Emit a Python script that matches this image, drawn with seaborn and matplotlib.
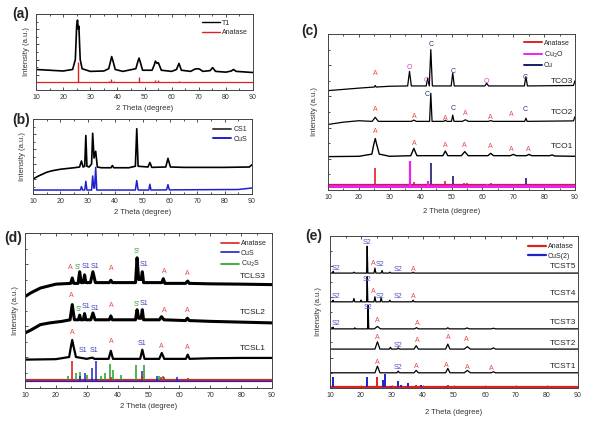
import matplotlib
matplotlib.use("Agg")
import matplotlib.pyplot as plt
import seaborn as sns
from matplotlib.lines import Line2D
import matplotlib.ticker as ticker

# ---------------- data (y in % of panel height) -------------
# (a) T1 pattern and anatase reference
t1_x = [10, 15, 20, 23.5, 24.5, 25.0, 25.3, 25.6, 25.8, 26.3, 27, 30, 35, 36.8, 37.5, 37.9, 38.4, 39.2,
        42, 46.8, 47.6, 48.0, 48.5, 49.3, 52.8, 53.6, 54.0, 54.6, 55.1, 56.2, 60, 61.8, 62.7, 63.6,
        67, 68.6, 69.5, 70.3, 71.5, 74.2, 75.1, 76.2, 80, 82.0, 82.8, 83.8, 90]
t1_y = [27, 26, 25, 27, 40, 85, 92, 80, 84, 40, 28, 24.5, 25, 28, 38, 44, 38, 27,
        24.5, 28, 38, 42, 36, 26, 26, 33, 38, 35, 36, 26, 24.5, 27, 35, 26,
        24.5, 27.5, 28, 27.5, 24.5, 25.5, 29.5, 24.5, 23.5, 25, 27, 24.5, 23]
anatase_a_pos = [25.3, 37.0, 37.8, 38.6, 48.0, 53.9, 55.1, 62.7, 68.8, 70.3, 75.0]
anatase_a_top = [37, 11.5, 14, 11.5, 16.5, 13.5, 13.5, 12, 11, 11, 11]

# (b) CS1 pattern and CuS reference pattern
cs1_x = [10, 12, 15, 17, 20, 25, 27.0, 27.7, 28.3, 28.9, 29.3, 29.7, 30.5, 31.4, 31.8, 32.3, 32.9, 33.5,
         35, 38.5, 39.0, 39.5, 45, 47.4, 47.9, 48.4, 52.0, 52.7, 53.4, 58.5, 59.3, 60.2, 65, 70, 80, 89, 90]
cs1_y = [20, 24, 29, 31, 33, 35, 36, 44, 36, 37, 78, 37, 36, 40, 81, 48, 57, 36,
         35, 35, 38, 35, 35, 37, 87, 37, 36, 42, 35.5, 36, 47.5, 36, 35.5, 35.5, 35.5, 36, 39]
cus_b_x = [10, 27.3, 27.7, 28.1, 28.9, 29.3, 29.7, 31.4, 31.8, 32.2, 32.5, 32.9, 33.3, 47.4, 47.9, 48.4,
           52.3, 52.7, 53.1, 58.8, 59.3, 59.8, 85, 90]
cus_b_y = [5.3, 5.3, 10, 5.3, 5.3, 17, 5.3, 5.3, 24, 8, 8, 35.5, 5.3, 5.3, 18, 5.3,
           5.3, 13, 5.3, 5.5, 12.5, 5.5, 6, 8]

# (c) TCO series and Anatase / Cu2O / Cu references
tco3_x = [10, 15, 20, 25, 25.3, 25.6, 30, 35.8, 36.4, 37.0, 41.8, 42.3, 42.8, 43.3, 43.8, 49.9, 50.4, 50.9,
          60.8, 61.4, 62.0, 73.6, 74.1, 74.6, 89.5, 90]
tco3_y = [63.7, 64.5, 65.3, 66, 67, 66, 66.5, 66.7, 76, 66.7, 66.7, 71.6, 66.7, 90, 66.7, 66.7, 75, 66.7,
          66.7, 68.4, 66.7, 66.7, 72.6, 66.7, 67, 70]
tco2_x = [10, 15, 20, 24.3, 25.3, 26.3, 30, 37.0, 37.8, 38.6, 42.9, 43.3, 43.7, 47.5, 48.0, 48.5, 50.0, 50.4,
          50.8, 53.5, 54.5, 55.5, 62.0, 62.7, 63.4, 73.7, 74.1, 74.5, 89.5, 90]
tco2_y = [42, 43.5, 44.4, 44, 46.6, 44, 44, 44, 44.8, 44, 44, 62, 44, 44, 44.7, 44, 44, 48,
          44, 44, 45, 44, 44, 44.5, 44, 44, 46, 44, 44.3, 47]
tco1_x = [10, 20, 24.2, 24.8, 25.3, 25.8, 26.6, 30, 36.8, 37.8, 38.8, 47.2, 48.0, 48.8, 53.2, 54.3, 55.4,
          61.8, 62.7, 63.6, 69, 70, 71, 74.2, 75.1, 76, 81.8, 82.6, 83.4, 90]
tco1_y = [21.4, 21.6, 23, 29, 33, 29, 23, 21.6, 22, 26.7, 22, 22, 25, 22, 22, 24.6, 22,
          22, 23.5, 22, 22, 22.8, 22, 22, 22.8, 22, 22, 22.5, 21.8, 21.6]
anatase_c_pos = [25.3, 37.8, 48.0, 53.9, 55.1, 62.7]
anatase_c_top = [14.3, 5.3, 6, 4.8, 4.8, 4.2]
cu2o_pos = [29.6, 36.4, 42.3, 61.4, 73.5]
cu2o_top = [3, 18.6, 6, 4, 3.2]
cu_pos = [43.3, 50.4, 74.1]
cu_top = [17, 9, 8]

# (d) TCSL series and Anatase / CuS / Cu2S references
tcls3_x = [10, 12, 15, 18, 20, 24.8, 25.3, 25.8, 27.2, 27.7, 28.2, 28.9, 29.3, 29.7, 31.2, 32.0, 32.8,
           37.3, 37.8, 38.3, 45.8, 46.3, 46.8, 47.6, 48.0, 48.4, 54.3, 54.8, 55.3, 62, 62.7, 63.2, 70, 80, 90]
tcls3_y = [59, 61.5, 64.5, 66, 67, 67.5, 71, 67.5, 67.5, 75, 68, 68, 73, 68, 68, 75, 68,
           68, 69.5, 68, 68, 84, 70, 70, 75, 68, 68, 70.5, 67.5, 67.5, 69, 67.5, 67.2, 67, 66.7]
tcsl2_x = [10, 12, 15, 18, 22, 24.6, 25.3, 26.0, 27.3, 27.7, 28.1, 28.9, 29.3, 29.7, 31.3, 32.0, 32.7,
           37.3, 37.8, 38.3, 45.8, 46.3, 46.8, 47.6, 48.0, 48.4, 53.5, 54.2, 55, 62, 62.6, 63.2, 70, 80, 90]
tcsl2_y = [35.5, 37.5, 40.9, 42, 43, 44, 53.8, 44, 44, 47, 44, 44, 48, 44, 44, 48.4, 44,
           44, 46.5, 44, 44, 50.5, 45, 45, 50.5, 44, 44, 46, 44, 43.5, 45, 43.5, 43, 42.5, 42]
tcsl1_x = [10, 20, 24.3, 24.9, 25.3, 25.7, 26.5, 30, 31.8, 32.5, 37.1, 37.8, 38.5, 47.3, 48.0, 48.7,
           53.5, 54.3, 55.1, 62.1, 62.7, 63.3, 70, 80, 90]
tcsl1_y = [18.3, 18.6, 20, 27, 31, 27, 20, 18.8, 19.6, 18.8, 18.8, 24, 18.8, 18.8, 24.7, 18.8,
           18.8, 22.6, 18.8, 18.8, 21.5, 18.8, 19.2, 19.4, 19.4]
anatase_d_pos = [25.3, 37.8, 48.0, 53.9, 55.1, 62.7, 75.0]
anatase_d_top = [17.6, 7, 7.5, 7, 7, 6.5, 6]
cus_d_pos = [27.7, 29.3, 31.8, 32.9, 47.9, 52.7, 59.3]
cus_d_top = [7.5, 9.7, 12.9, 17.6, 10.8, 8, 7]
cu2s_d_pos = [23.8, 26.5, 27.8, 30.0, 34.5, 36.0, 37.5, 38.5, 41.0, 45.9, 48.4, 53.5, 54.6]
cu2s_d_top = [8, 9.7, 10.5, 8.5, 8, 9.7, 15.5, 11.5, 8.5, 15, 15, 8, 8]

# (e) TCST series and Anatase / CuS(2) references
tcst5_x = [10, 10.8, 11.0, 11.2, 17.4, 17.7, 18.0, 21.8, 22.0, 22.2, 24.2, 24.5, 24.8, 26.5, 26.8, 27.1,
           29, 29.3, 29.6, 36.5, 36.8, 37.1, 90]
tcst5_y = [75.6, 75.6, 76.7, 75.6, 75.6, 76.2, 75.6, 75.6, 93.3, 75.6, 75.6, 78.9, 75.6, 75.6, 77.3, 75.6,
           75.6, 76.2, 75.6, 75.6, 76.2, 75.6, 75.6]
tcst4_x = [10, 10.8, 11.0, 11.2, 17.4, 17.7, 18.0, 19.8, 20.0, 20.2, 21.8, 22.0, 22.2, 24.2, 24.5, 24.8,
           26.2, 26.5, 26.8, 29, 29.3, 29.6, 36.5, 36.8, 37.1, 90]
tcst4_y = [56.7, 56.7, 57.8, 56.7, 56.7, 58.9, 56.7, 56.7, 57.8, 56.7, 56.7, 73.3, 56.7, 56.7, 60, 56.7,
           56.7, 59.3, 56.7, 56.7, 57.8, 56.7, 56.7, 57.8, 56.7, 56.7]
tcst3_x = [10, 10.8, 11.0, 11.2, 17.8, 18, 18.2, 22.1, 22.3, 22.5, 24.3, 25.3, 26.3, 37.3, 37.9, 38.5,
           47.5, 48, 48.5, 53.5, 54.2, 55, 62, 62.7, 63.4, 90]
tcst3_y = [38.9, 38.9, 40, 38.9, 38.9, 39.6, 38.9, 38.9, 54.4, 38.9, 38.9, 40.5, 38.9, 38.9, 39.7, 38.9,
           38.9, 39.6, 38.9, 38.9, 39.5, 38.9, 38.9, 39.3, 38.9, 38.9]
tcst2_x = [10, 24.5, 25.3, 26.1, 29.2, 29.5, 29.8, 31.6, 32, 32.4, 37.1, 37.8, 38.5, 47.3, 48, 48.7,
           53.3, 54.3, 55.3, 62, 62.7, 63.4, 90]
tcst2_y = [25.6, 25.6, 30.4, 25.6, 25.6, 26.8, 25.6, 25.6, 26.4, 25.6, 25.6, 27.8, 25.6, 25.6, 28.9, 25.6,
           25.6, 27.2, 25.6, 25.6, 26.4, 25.6, 25.6]
tcst1_x = [10, 24.5, 25.3, 26.1, 31.6, 32, 32.4, 37.1, 37.8, 38.5, 47.3, 48, 48.7, 53.3, 54.3, 55.3,
           62, 62.7, 63.4, 90]
tcst1_y = [10, 10, 14.4, 10, 10, 11.1, 10, 10, 11.6, 10, 10, 12.9, 10, 10, 11.6, 10, 10, 10.7, 10, 10]
anatase_e_pos = [25.3, 37.8, 48.0, 53.9, 55.1]
anatase_e_top = [7.1, 2, 1.8, 1.5, 1.5]
cus2_e_pos = [10.9, 22.0, 27.2, 27.8, 29.6, 32.0, 33.0, 35.3, 39.2, 47.9]
cus2_e_top = [7.3, 7, 5, 9.3, 1.5, 4.8, 1.8, 3.3, 2.3, 1.5]

# peak marks: (text, 2theta, height, phase)
marks_c = [("A", 25.3, 74.8, "A"), ("O", 36.4, 78.4, "O"), ("O", 42.0, 70.5, "O"), ("C", 43.3, 93, "C"),
           ("C", 50.4, 75.9, "C"), ("O", 61.4, 69.4, "O"), ("C", 74.0, 72.2, "C"),
           ("A", 25.3, 51.3, "A"), ("A", 37.8, 47.4, "A"), ("C", 42.0, 61, "C"), ("A", 48.0, 46, "A"),
           ("C", 50.4, 52, "C"), ("A", 54.5, 49, "A"), ("A", 62.7, 46.6, "A"), ("A", 69.5, 48.7, "A"),
           ("C", 74.0, 51.3, "C"),
           ("A", 25.3, 37.4, "A"), ("A", 37.8, 30, "A"), ("A", 48.0, 28.4, "A"), ("A", 54.0, 28.4, "A"),
           ("A", 62.7, 27.8, "A"), ("A", 69.5, 26, "A"), ("A", 75.0, 26, "A")]
marks_d = [("A", 24.8, 77.8, "A"), ("S'", 27.2, 77.8, "S'"), ("S1", 29.6, 78.4, "S1"), ("S1", 32.7, 78.4, "S1"),
           ("A", 38.0, 77, "A"), ("S'", 46.2, 88.2, "S'"), ("S1", 48.5, 80, "S1"), ("A", 55.0, 75.3, "A"),
           ("A", 62.7, 73.8, "A"),
           ("A", 25.0, 59.8, "A"), ("S'", 27.3, 50.5, "S'"), ("S1", 29.6, 52.7, "S1"), ("S1", 32.7, 51.6, "S1"),
           ("A", 38.0, 53.3, "A"), ("S'", 46.2, 53.8, "S'"), ("S1", 48.5, 54.2, "S1"), ("A", 55.0, 50, "A"),
           ("A", 62.7, 50, "A"),
           ("A", 25.3, 36, "A"), ("S1", 28.9, 24.5, "S1"), ("S1", 32.4, 24.5, "S1"), ("A", 37.8, 29.7, "A"),
           ("S1", 48.0, 28.6, "S1"), ("A", 54.3, 26.9, "A"), ("A", 62.7, 26.2, "A")]
marks_e = [("S2", 11.8, 78.9, "S2"), ("S2", 22.0, 95.6, "S2"), ("A", 24.0, 82.2, "A"), ("S2", 26.3, 81, "S2"),
           ("S2", 31.8, 78.2, "S2"), ("A", 37.0, 78.2, "A"),
           ("S2", 11.8, 60, "S2"), ("S2", 22.0, 71.6, "S2"), ("A", 24.0, 63.3, "A"), ("S2", 26.3, 60.4, "S2"),
           ("S2", 31.8, 60.4, "S2"), ("A", 37.0, 60, "A"),
           ("S2", 11.8, 42.7, "S2"), ("S2", 22.3, 52.9, "S2"), ("A", 25.3, 44.4, "A"), ("A", 38.0, 42.7, "A"),
           ("A", 25.3, 32.9, "A"), ("S2", 31.8, 27.8, "S2"), ("A", 38.0, 31, "A"), ("A", 48.0, 32.9, "A"),
           ("A", 54.0, 31.8, "A"),
           ("A", 25.3, 16.7, "A"), ("S2", 32.0, 13.3, "S2"), ("A", 37.8, 14.4, "A"), ("A", 47.6, 15.1, "A"),
           ("A", 54.3, 13.8, "A"), ("A", 62.0, 12.7, "A")]

mark_colors = {"A": "#e8474a", "O": "#cc44cc", "C": "#303080", "S'": "#3a9a3a", "S1": "#4040c0", "S2": "#5050c8"}

# ---------------- figure ----------------
sns.set_theme(style="ticks")
plt.rcParams["font.family"] = ["Liberation Sans", "DejaVu Sans"]
plt.rcParams["axes.linewidth"] = 0.7

W, H = 595, 421
fig = plt.figure(figsize=(W / 100, H / 100), dpi=100)


def make_ax(x0, y0, x1, y1, ylab_x, xlab_y):
    ax = fig.add_axes([x0 / W, 1 - y1 / H, (x1 - x0) / W, (y1 - y0) / H])
    ax.set_xlim(10, 90)
    ax.set_ylim(0, 100)
    ax.xaxis.set_major_locator(ticker.MultipleLocator(10))
    ax.xaxis.set_minor_locator(ticker.MultipleLocator(5))
    ax.yaxis.set_major_locator(ticker.MultipleLocator(20))
    ax.yaxis.set_minor_locator(ticker.MultipleLocator(10))
    ax.tick_params(which="both", direction="in", top=True, right=False, labelleft=False,
                   labelsize=5, pad=3, colors="#333333", width=0.6)
    ax.tick_params(which="major", length=2.5)
    ax.tick_params(which="minor", length=1.5)
    for s in ax.spines.values():
        s.set_color("#444444")
    ax.set_xlabel("2 Theta (degree)", fontsize=5.5, color="#333333")
    ax.set_ylabel("Intensity (a.u.)", fontsize=5.5, color="#333333")
    ax.xaxis.set_label_coords(0.5, (y1 - xlab_y) / (y1 - y0))
    ax.xaxis.label.set_va("center")
    ax.yaxis.set_label_coords((ylab_x - x0) / (x1 - x0), 0.5)
    ax.yaxis.label.set_va("center")
    return ax


def trace(ax, x, y, color="black", lw=0.8):
    sns.lineplot(x=x, y=y, ax=ax, color=color, lw=lw, sort=False, estimator=None, legend=False)


def sticks(ax, pos, top, base, color, lw=1.0):
    ax.vlines(pos, base, top, colors=color, lw=lw)


def legend(ax, entries, anchor, lw=1.0):
    handles = [Line2D([], [], color=c, lw=lw) for _, c in entries]
    ax.legend(handles, [t for t, _ in entries], loc="upper right", bbox_to_anchor=anchor,
              frameon=False, fontsize=5, handlelength=2.6, handletextpad=0.3, labelspacing=0.35,
              borderaxespad=0)


def marks(ax, items):
    for t, x, y, k in items:
        ax.text(x, y, t, color=mark_colors[k], fontsize=5, ha="center", va="center")


def names(ax, items, x):
    for name, yv in items:
        ax.text(x, yv, name, fontsize=6, ha="right", va="center", color="#222222")


def panel_label(text, x, y):
    fig.text(x / W, 1 - y / H, text, fontsize=10, fontweight="bold", ha="left", va="center")


RED, BLUE, GREEN, MAG, NAVY = "#e02020", "#2020d0", "#20a020", "#ee22ee", "#1a1a70"

# (a)
ax = make_ax(36, 14, 253, 90, 27, 108)
ax.axhline(10, color=RED, lw=0.9)
sticks(ax, anatase_a_pos, anatase_a_top, 10, RED, 1.0)
trace(ax, t1_x, t1_y, lw=1.2)
legend(ax, [("T1", "black"), ("Anatase", RED)], (0.99, 0.96))
panel_label("(a)", 12, 14)

# (b)
ax = make_ax(33, 119, 252, 194, 23, 213)
trace(ax, cus_b_x, cus_b_y, BLUE, 1.1)
trace(ax, cs1_x, cs1_y, lw=1.2)
legend(ax, [("CS1", "#444444"), ("CuS", BLUE)], (0.99, 0.94), lw=1.4)
panel_label("(b)", 12, 120)

# (c)
ax = make_ax(328, 34, 575, 190, 315, 212)
ax.axhline(3.0, color=NAVY, lw=0.8)
ax.axhline(2.3, color=MAG, lw=2.2)
ax.axhline(3.8, color="#c0204a", lw=0.9)
sticks(ax, cu2o_pos, cu2o_top, 2.5, MAG, 1.6)
sticks(ax, anatase_c_pos, anatase_c_top, 3.8, RED, 1.2)
sticks(ax, cu_pos, cu_top, 3.8, NAVY, 1.2)
trace(ax, tco3_x, tco3_y, lw=0.9)
trace(ax, tco2_x, tco2_y, lw=0.9)
trace(ax, tco1_x, tco1_y, lw=1.0)
names(ax, [("TCO3", 69.4), ("TCO2", 49.6), ("TCO1", 27.8)], 89.5)
marks(ax, marks_c)
legend(ax, [("Anatase", RED), ("Cu$_2$O", MAG), ("Cu", NAVY)], (0.99, 0.98), lw=1.4)
panel_label("(c)", 301, 31)

# (d)
ax = make_ax(25, 233, 272, 388, 15, 407)
ax.axhline(4.9, color=GREEN, lw=1.6)
ax.axhline(4.3, color=BLUE, lw=1.6)
ax.axhline(5.4, color=RED, lw=1.2)
sticks(ax, cu2s_d_pos, cu2s_d_top, 4.9, GREEN, 1.1)
sticks(ax, cus_d_pos, cus_d_top, 4.3, BLUE, 1.1)
sticks(ax, anatase_d_pos, anatase_d_top, 5.4, RED, 1.2)
trace(ax, tcls3_x, tcls3_y, lw=2.2)
trace(ax, tcsl2_x, tcsl2_y, lw=2.2)
trace(ax, tcsl1_x, tcsl1_y, lw=1.6)
names(ax, [("TCLS3", 72), ("TCSL2", 49), ("TCSL1", 25.8)], 88)
marks(ax, marks_d)
legend(ax, [("Anatase", RED), ("CuS", BLUE), ("Cu$_2$S", GREEN)], (0.99, 0.97), lw=1.2)
panel_label("(d)", 4, 238)

# (e)
ax = make_ax(330, 236, 578, 388, 319, 412)
ax.axhline(0.9, color=RED, lw=1.6)
sticks(ax, cus2_e_pos, cus2_e_top, 0.9, BLUE, 1.4)
sticks(ax, anatase_e_pos, anatase_e_top, 0.9, RED, 1.4)
for xs, ys in [(tcst5_x, tcst5_y), (tcst4_x, tcst4_y), (tcst3_x, tcst3_y), (tcst2_x, tcst2_y), (tcst1_x, tcst1_y)]:
    trace(ax, xs, ys, lw=0.9)
names(ax, [("TCST5", 80), ("TCST4", 62.2), ("TCST3", 43.3), ("TCST2", 29.6), ("TCST1", 14.4)], 89.5)
marks(ax, marks_e)
legend(ax, [("Anatase", RED), ("CuS(2)", BLUE)], (0.995, 0.97), lw=1.6)
panel_label("(e)", 305, 236)

fig.savefig("out.png", dpi=100)
